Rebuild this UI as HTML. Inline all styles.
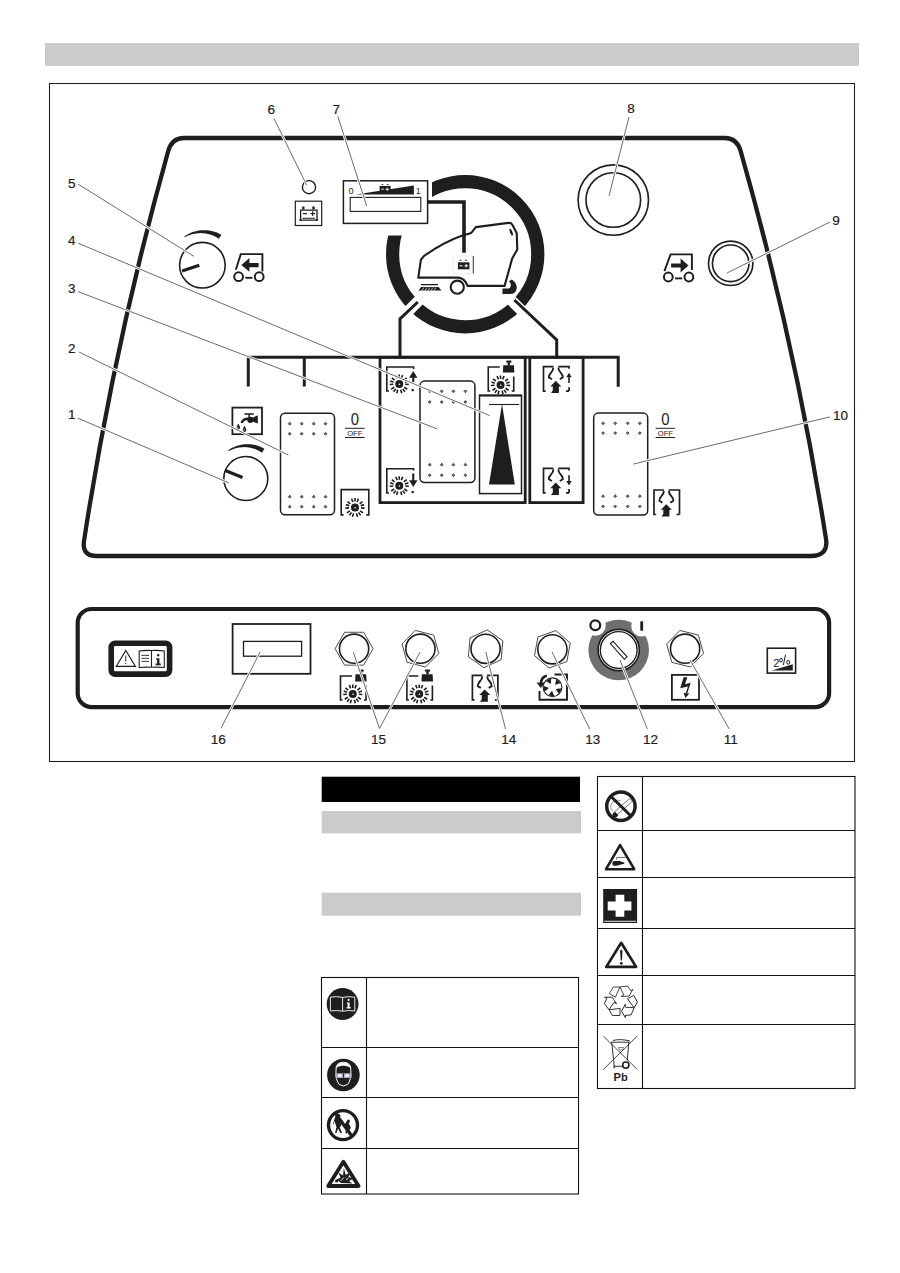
<!DOCTYPE html>
<html><head><meta charset="utf-8">
<style>
html,body{margin:0;padding:0;background:#fff;width:900px;height:1273px;overflow:hidden}
svg{position:absolute;left:0;top:0;display:block}
text{font-family:"Liberation Sans",sans-serif}
</style></head><body>
<svg width="900" height="1273" viewBox="0 0 900 1273">
<rect x="45" y="43" width="814" height="23" fill="#cbcbcb"/>
<rect x="49.5" y="83.5" width="805" height="678" fill="none" stroke="#222" stroke-width="1.1"/>
<path d="M183.89,138.00 H724.90 Q736.90,138.00 740.62,151.00 Q795.73,345.00 826.00,539.00 Q828.60,556.00 810.60,556.00 H96.77 Q81.77,556.00 84.02,541.00 Q113.68,346.00 168.22,151.00 Q171.89,138.00 183.89,138.00 Z" fill="none" stroke="#1e1e1e" stroke-width="4.3"/>
<rect x="77.7" y="609" width="751.4" height="98.2" rx="14" fill="none" stroke="#1e1e1e" stroke-width="4.2"/>
<rect x="321.7" y="776.7" width="258.3" height="25.3" fill="#000"/>
<rect x="321.7" y="811" width="259.3" height="22.3" fill="#cbcbcb"/>
<rect x="321.7" y="892.7" width="259.3" height="23" fill="#cbcbcb"/>
<g fill="none" stroke="#111" stroke-width="1.1">
<rect x="321.5" y="977.5" width="257" height="216.5"/>
<path d="M366.5,977.5 V1194 M321.5,1047.5 H578.5 M321.5,1097.5 H578.5 M321.5,1148.5 H578.5"/>
<rect x="597.5" y="776.5" width="257.5" height="312"/>
<path d="M642.5,776.5 V1088.5 M597.5,830.5 H855 M597.5,877.5 H855 M597.5,928.5 H855 M597.5,975.5 H855 M597.5,1024.5 H855"/>
</g>
<circle cx="465.2" cy="254.2" r="72.6" fill="none" stroke="#1e1e1e" stroke-width="13.2"/>
<rect x="338" y="168" width="94" height="67.5" fill="#fff"/>
<line x1="422.77" y1="296.63" x2="404.39" y2="315.01" stroke="#fff" stroke-width="11"/>
<line x1="507.63" y1="296.63" x2="526.01" y2="315.01" stroke="#fff" stroke-width="11"/>
<path d="M417.8,302 L400,319 V357" fill="none" stroke="#1e1e1e" stroke-width="3"/>
<path d="M514.4,300 L556.7,340 V357" fill="none" stroke="#1e1e1e" stroke-width="3"/>
<path d="M427,202 H464 V252.7" fill="none" stroke="#1e1e1e" stroke-width="3.6"/>
<path d="M418.3,277.6 L420.9,259.7 L424.1,255.9 C437,247 450,240 461.1,236.1 L471.3,232.9 L475.8,227.1 L508.4,222.9 Q511,222.5 512.2,224.6 L516.7,232.9 L517.3,249.5 L512.2,258.4 L504.6,285.9 L467.5,285.9 Q465,278.5 458.6,277.6 Z" fill="none" stroke="#1e1e1e" stroke-width="2.1" stroke-linejoin="round"/>
<circle cx="457.3" cy="287.2" r="6.6" fill="#fff" stroke="#1e1e1e" stroke-width="2.1"/>
<ellipse cx="511.2" cy="232.2" rx="1.2" ry="3.6" transform="rotate(-22 511.2 232.2)" fill="#1e1e1e"/>
<rect x="421" y="284" width="17" height="1.3" fill="#1e1e1e"/>
<path d="M421,287 L438.5,287 L441.5,290.6 L418.6,290.6 Z" fill="#1e1e1e"/>
<path d="M422,290.4 L424,287.5 M425,290.4 L427,287.5 M428,290.4 L430,287.5 M431,290.4 L433,287.5 M434,290.4 L436,287.5" stroke="#fff" stroke-width="0.7"/>
<path d="M502.5,288.6 H507.5 Q510.6,288.6 510.9,285.6 Q511,283 509,281.2 L511.8,279.4 Q517.2,282.8 516.7,288.5 Q516,294 509.5,294 H502.5 Z" fill="#1e1e1e"/>
<rect x="453" y="256" width="20.5" height="17.5" fill="none" stroke="#e2e2e2" stroke-width="0.6"/>
<line x1="473.3" y1="256" x2="473.3" y2="273.5" stroke="#1e1e1e" stroke-width="0.9"/>
<rect x="457.9" y="262.3" width="11.5" height="7" fill="#1e1e1e"/>
<path d="M459.6,260.3 h1.9 M465.2,260.3 h1.9" stroke="#1e1e1e" stroke-width="1.1"/>
<path d="M459.5,265.8 h3 M464.5,265.8 h3.5 M466.2,264.1 v3.4" stroke="#fff" stroke-width="1"/>
<rect x="343.4" y="180.8" width="84.2" height="42.6" fill="#fff" stroke="#1e1e1e" stroke-width="1.5"/>
<rect x="350.2" y="197.4" width="70.6" height="14" fill="none" stroke="#1e1e1e" stroke-width="1.1"/>
<path d="M355.8,194.5 L413.9,185.6 V194.5 Z" fill="#1e1e1e"/>
<rect x="379.6" y="186" width="11" height="6.4" fill="#1e1e1e"/>
<path d="M381.5,184.6 h1.8 M386.8,184.6 h1.8" stroke="#1e1e1e" stroke-width="0.9"/>
<path d="M381.2,189.2 h2.6 M385.5,189.2 h3.4 M387.2,187.6 v3.2" stroke="#fff" stroke-width="0.9"/>
<text x="351" y="194" font-size="9" text-anchor="middle" fill="#1e1e1e">0</text>
<text x="418.3" y="194" font-size="9" text-anchor="middle" fill="#1e1e1e">1</text>
<circle cx="309" cy="187.2" r="6.6" fill="none" stroke="#1e1e1e" stroke-width="1.4"/>
<rect x="295.3" y="201.2" width="26.4" height="24.3" fill="none" stroke="#1e1e1e" stroke-width="1.2"/>
<path d="M300.6,220.2 V210.2 H317 V220.2 Z" fill="none" stroke="#1e1e1e" stroke-width="1.3"/>
<rect x="302.2" y="206.5" width="2.3" height="3" fill="#1e1e1e"/><rect x="312.3" y="206.5" width="2.3" height="3" fill="#1e1e1e"/>
<path d="M303,213.6 h4 M310.5,213.6 h4.5 M312.7,211.3 v4.6 M302.5,218.2 h12.5" stroke="#1e1e1e" stroke-width="1.1"/>
<rect x="299.5" y="219" width="1.8" height="2" fill="#1e1e1e"/><rect x="316" y="219" width="1.8" height="2" fill="#1e1e1e"/>
<circle cx="613.3" cy="200" r="35.2" fill="none" stroke="#1e1e1e" stroke-width="1.65"/>
<circle cx="613.3" cy="200" r="27.3" fill="none" stroke="#1e1e1e" stroke-width="1.65"/>
<circle cx="730.7" cy="263.3" r="22.2" fill="none" stroke="#1e1e1e" stroke-width="1.65"/>
<circle cx="730.7" cy="263.3" r="18.3" fill="none" stroke="#1e1e1e" stroke-width="1.65"/>
<g transform="translate(233.0 254.0)"><path d="M2.8,15.8 L7.8,0.1 H29.4 V17.6" fill="none" stroke="#1e1e1e" stroke-width="1.9"/><path d="M8.4,10.9 L16.4,3.9 V9 H25.6 V13.2 H16.4 V17.8 Z" fill="#1e1e1e"/><circle cx="5.6" cy="22.7" r="4.4" fill="none" stroke="#1e1e1e" stroke-width="2"/><circle cx="26.2" cy="22.7" r="4.4" fill="none" stroke="#1e1e1e" stroke-width="2"/><line x1="12.3" y1="23.8" x2="19.5" y2="23.8" stroke="#1e1e1e" stroke-width="1.9"/></g>
<g transform="translate(662.7 254.0)"><path d="M1.7,17.1 L7.9,0.4 H29.2 V16" fill="none" stroke="#1e1e1e" stroke-width="1.9"/><path d="M25.8,11.5 L17.9,4.5 V9.6 H8.4 V13.5 H17.9 V18.5 Z" fill="#1e1e1e"/><circle cx="5.6" cy="23.0" r="4.4" fill="none" stroke="#1e1e1e" stroke-width="2"/><circle cx="26.2" cy="23.0" r="4.4" fill="none" stroke="#1e1e1e" stroke-width="2"/><line x1="12.3" y1="24.4" x2="19.5" y2="24.4" stroke="#1e1e1e" stroke-width="1.9"/></g>
<circle cx="202.4" cy="265.2" r="22.8" fill="none" stroke="#1e1e1e" stroke-width="1.6"/>
<path d="M184.38,236.37 L185.70,235.49 L187.07,234.67 L188.47,233.92 L189.92,233.23 L191.39,232.61 L192.90,232.06 L194.43,231.58 L195.99,231.17 L197.57,230.83 L199.17,230.56 L200.78,230.37 L202.40,230.25 L204.03,230.21 L205.66,230.24 L207.30,230.35 L208.93,230.54 L210.55,230.81 L212.16,231.15 L213.76,231.56 L215.34,232.05 L216.91,232.62 L218.44,233.26 L219.95,233.97 L221.42,234.76 L218.88,238.83 L217.67,238.02 L216.43,237.27 L215.15,236.57 L213.83,235.94 L212.48,235.36 L211.10,234.85 L209.70,234.40 L208.27,234.01 L206.83,233.70 L205.36,233.45 L203.89,233.26 L202.40,233.15 L200.91,233.11 L199.41,233.13 L197.91,233.23 L196.41,233.39 L194.92,233.63 L193.43,233.93 L191.96,234.31 L190.51,234.76 L189.07,235.27 L187.66,235.85 L186.27,236.50 L184.91,237.21 Z" fill="#1e1e1e"/>
<line x1="182.1" y1="270.9" x2="199.3" y2="265.3" stroke="#1e1e1e" stroke-width="3.2"/>
<circle cx="245.8" cy="478.5" r="22.0" fill="none" stroke="#1e1e1e" stroke-width="1.6"/>
<path d="M228.15,450.26 L229.45,449.40 L230.78,448.60 L232.16,447.86 L233.57,447.19 L235.02,446.58 L236.49,446.03 L237.99,445.56 L239.52,445.15 L241.07,444.82 L242.63,444.56 L244.21,444.37 L245.80,444.25 L247.40,444.21 L249.00,444.24 L250.60,444.35 L252.20,444.53 L253.79,444.79 L255.37,445.12 L256.94,445.53 L258.49,446.01 L260.02,446.56 L261.53,447.19 L263.01,447.88 L264.45,448.65 L261.91,452.72 L260.73,451.93 L259.51,451.19 L258.26,450.51 L256.97,449.89 L255.66,449.32 L254.31,448.82 L252.94,448.38 L251.54,448.00 L250.13,447.69 L248.70,447.44 L247.25,447.26 L245.80,447.15 L244.34,447.10 L242.87,447.13 L241.40,447.22 L239.94,447.38 L238.48,447.61 L237.03,447.91 L235.59,448.27 L234.16,448.71 L232.76,449.21 L231.37,449.78 L230.02,450.41 L228.68,451.11 Z" fill="#1e1e1e"/>
<line x1="225.3" y1="470.5" x2="242.5" y2="477.5" stroke="#1e1e1e" stroke-width="3.2"/>
<path d="M248.3,386.5 V357.3 H618.2 V386.7 M304.3,357.3 V386.5" fill="none" stroke="#1e1e1e" stroke-width="3"/>
<rect x="380" y="357.3" width="145.2" height="145.3" fill="none" stroke="#1e1e1e" stroke-width="2.8"/>
<rect x="529.8" y="357.3" width="53.3" height="145.3" fill="none" stroke="#1e1e1e" stroke-width="2.8"/>
<rect x="280.5" y="413.3" width="54.0" height="101.4" rx="4.5" fill="none" stroke="#1e1e1e" stroke-width="1.5"/>
<path d="M289.70,422.25 l1.45,1.45 l-1.45,1.45 l-1.45,-1.45 Z" fill="#777" stroke="#1e1e1e" stroke-width="0.7"/>
<path d="M301.70,422.25 l1.45,1.45 l-1.45,1.45 l-1.45,-1.45 Z" fill="#777" stroke="#1e1e1e" stroke-width="0.7"/>
<path d="M313.70,422.25 l1.45,1.45 l-1.45,1.45 l-1.45,-1.45 Z" fill="#777" stroke="#1e1e1e" stroke-width="0.7"/>
<path d="M325.50,422.25 l1.45,1.45 l-1.45,1.45 l-1.45,-1.45 Z" fill="#777" stroke="#1e1e1e" stroke-width="0.7"/>
<path d="M289.70,432.35 l1.45,1.45 l-1.45,1.45 l-1.45,-1.45 Z" fill="#777" stroke="#1e1e1e" stroke-width="0.7"/>
<path d="M301.70,432.35 l1.45,1.45 l-1.45,1.45 l-1.45,-1.45 Z" fill="#777" stroke="#1e1e1e" stroke-width="0.7"/>
<path d="M313.70,432.35 l1.45,1.45 l-1.45,1.45 l-1.45,-1.45 Z" fill="#777" stroke="#1e1e1e" stroke-width="0.7"/>
<path d="M325.50,432.35 l1.45,1.45 l-1.45,1.45 l-1.45,-1.45 Z" fill="#777" stroke="#1e1e1e" stroke-width="0.7"/>
<path d="M289.70,495.25 l1.45,1.45 l-1.45,1.45 l-1.45,-1.45 Z" fill="#777" stroke="#1e1e1e" stroke-width="0.7"/>
<path d="M301.70,495.25 l1.45,1.45 l-1.45,1.45 l-1.45,-1.45 Z" fill="#777" stroke="#1e1e1e" stroke-width="0.7"/>
<path d="M313.70,495.25 l1.45,1.45 l-1.45,1.45 l-1.45,-1.45 Z" fill="#777" stroke="#1e1e1e" stroke-width="0.7"/>
<path d="M325.50,495.25 l1.45,1.45 l-1.45,1.45 l-1.45,-1.45 Z" fill="#777" stroke="#1e1e1e" stroke-width="0.7"/>
<path d="M289.70,505.25 l1.45,1.45 l-1.45,1.45 l-1.45,-1.45 Z" fill="#777" stroke="#1e1e1e" stroke-width="0.7"/>
<path d="M301.70,505.25 l1.45,1.45 l-1.45,1.45 l-1.45,-1.45 Z" fill="#777" stroke="#1e1e1e" stroke-width="0.7"/>
<path d="M313.70,505.25 l1.45,1.45 l-1.45,1.45 l-1.45,-1.45 Z" fill="#777" stroke="#1e1e1e" stroke-width="0.7"/>
<path d="M325.50,505.25 l1.45,1.45 l-1.45,1.45 l-1.45,-1.45 Z" fill="#777" stroke="#1e1e1e" stroke-width="0.7"/>
<rect x="420.0" y="381.1" width="54.9" height="101.5" rx="4.5" fill="none" stroke="#1e1e1e" stroke-width="1.5"/>
<path d="M429.70,389.85 l1.45,1.45 l-1.45,1.45 l-1.45,-1.45 Z" fill="#777" stroke="#1e1e1e" stroke-width="0.7"/>
<path d="M441.70,389.85 l1.45,1.45 l-1.45,1.45 l-1.45,-1.45 Z" fill="#777" stroke="#1e1e1e" stroke-width="0.7"/>
<path d="M453.40,389.85 l1.45,1.45 l-1.45,1.45 l-1.45,-1.45 Z" fill="#777" stroke="#1e1e1e" stroke-width="0.7"/>
<path d="M465.40,389.85 l1.45,1.45 l-1.45,1.45 l-1.45,-1.45 Z" fill="#777" stroke="#1e1e1e" stroke-width="0.7"/>
<path d="M429.70,400.55 l1.45,1.45 l-1.45,1.45 l-1.45,-1.45 Z" fill="#777" stroke="#1e1e1e" stroke-width="0.7"/>
<path d="M441.70,400.55 l1.45,1.45 l-1.45,1.45 l-1.45,-1.45 Z" fill="#777" stroke="#1e1e1e" stroke-width="0.7"/>
<path d="M453.40,400.55 l1.45,1.45 l-1.45,1.45 l-1.45,-1.45 Z" fill="#777" stroke="#1e1e1e" stroke-width="0.7"/>
<path d="M465.40,400.55 l1.45,1.45 l-1.45,1.45 l-1.45,-1.45 Z" fill="#777" stroke="#1e1e1e" stroke-width="0.7"/>
<path d="M429.70,463.25 l1.45,1.45 l-1.45,1.45 l-1.45,-1.45 Z" fill="#777" stroke="#1e1e1e" stroke-width="0.7"/>
<path d="M441.70,463.25 l1.45,1.45 l-1.45,1.45 l-1.45,-1.45 Z" fill="#777" stroke="#1e1e1e" stroke-width="0.7"/>
<path d="M453.40,463.25 l1.45,1.45 l-1.45,1.45 l-1.45,-1.45 Z" fill="#777" stroke="#1e1e1e" stroke-width="0.7"/>
<path d="M465.40,463.25 l1.45,1.45 l-1.45,1.45 l-1.45,-1.45 Z" fill="#777" stroke="#1e1e1e" stroke-width="0.7"/>
<path d="M429.70,473.75 l1.45,1.45 l-1.45,1.45 l-1.45,-1.45 Z" fill="#777" stroke="#1e1e1e" stroke-width="0.7"/>
<path d="M441.70,473.75 l1.45,1.45 l-1.45,1.45 l-1.45,-1.45 Z" fill="#777" stroke="#1e1e1e" stroke-width="0.7"/>
<path d="M453.40,473.75 l1.45,1.45 l-1.45,1.45 l-1.45,-1.45 Z" fill="#777" stroke="#1e1e1e" stroke-width="0.7"/>
<path d="M465.40,473.75 l1.45,1.45 l-1.45,1.45 l-1.45,-1.45 Z" fill="#777" stroke="#1e1e1e" stroke-width="0.7"/>
<rect x="593.7" y="413.1" width="54.0" height="102.0" rx="4.5" fill="none" stroke="#1e1e1e" stroke-width="1.5"/>
<path d="M603.10,421.85 l1.45,1.45 l-1.45,1.45 l-1.45,-1.45 Z" fill="#777" stroke="#1e1e1e" stroke-width="0.7"/>
<path d="M615.20,421.85 l1.45,1.45 l-1.45,1.45 l-1.45,-1.45 Z" fill="#777" stroke="#1e1e1e" stroke-width="0.7"/>
<path d="M627.70,421.85 l1.45,1.45 l-1.45,1.45 l-1.45,-1.45 Z" fill="#777" stroke="#1e1e1e" stroke-width="0.7"/>
<path d="M639.80,421.85 l1.45,1.45 l-1.45,1.45 l-1.45,-1.45 Z" fill="#777" stroke="#1e1e1e" stroke-width="0.7"/>
<path d="M603.10,431.65 l1.45,1.45 l-1.45,1.45 l-1.45,-1.45 Z" fill="#777" stroke="#1e1e1e" stroke-width="0.7"/>
<path d="M615.20,431.65 l1.45,1.45 l-1.45,1.45 l-1.45,-1.45 Z" fill="#777" stroke="#1e1e1e" stroke-width="0.7"/>
<path d="M627.70,431.65 l1.45,1.45 l-1.45,1.45 l-1.45,-1.45 Z" fill="#777" stroke="#1e1e1e" stroke-width="0.7"/>
<path d="M639.80,431.65 l1.45,1.45 l-1.45,1.45 l-1.45,-1.45 Z" fill="#777" stroke="#1e1e1e" stroke-width="0.7"/>
<path d="M603.10,494.75 l1.45,1.45 l-1.45,1.45 l-1.45,-1.45 Z" fill="#777" stroke="#1e1e1e" stroke-width="0.7"/>
<path d="M615.20,494.75 l1.45,1.45 l-1.45,1.45 l-1.45,-1.45 Z" fill="#777" stroke="#1e1e1e" stroke-width="0.7"/>
<path d="M627.70,494.75 l1.45,1.45 l-1.45,1.45 l-1.45,-1.45 Z" fill="#777" stroke="#1e1e1e" stroke-width="0.7"/>
<path d="M639.80,494.75 l1.45,1.45 l-1.45,1.45 l-1.45,-1.45 Z" fill="#777" stroke="#1e1e1e" stroke-width="0.7"/>
<path d="M603.10,504.95 l1.45,1.45 l-1.45,1.45 l-1.45,-1.45 Z" fill="#777" stroke="#1e1e1e" stroke-width="0.7"/>
<path d="M615.20,504.95 l1.45,1.45 l-1.45,1.45 l-1.45,-1.45 Z" fill="#777" stroke="#1e1e1e" stroke-width="0.7"/>
<path d="M627.70,504.95 l1.45,1.45 l-1.45,1.45 l-1.45,-1.45 Z" fill="#777" stroke="#1e1e1e" stroke-width="0.7"/>
<path d="M639.80,504.95 l1.45,1.45 l-1.45,1.45 l-1.45,-1.45 Z" fill="#777" stroke="#1e1e1e" stroke-width="0.7"/>
<text x="354.8" y="425.4" font-size="16.5" text-anchor="middle" fill="#1e1e1e" transform="translate(354.8 0) scale(0.9 1) translate(-354.8 0)">0</text>
<line x1="345.0" y1="428.3" x2="364.6" y2="428.3" stroke="#1e1e1e" stroke-width="1"/>
<text x="354.8" y="435.7" font-size="7.6" text-anchor="middle" fill="#1e1e1e">OFF</text>
<line x1="345.0" y1="437.5" x2="364.6" y2="437.5" stroke="#1e1e1e" stroke-width="1"/>
<text x="665.4" y="425.4" font-size="16.5" text-anchor="middle" fill="#1e1e1e" transform="translate(665.4 0) scale(0.9 1) translate(-665.4 0)">0</text>
<line x1="655.6" y1="428.3" x2="675.2" y2="428.3" stroke="#1e1e1e" stroke-width="1"/>
<text x="665.4" y="435.7" font-size="7.6" text-anchor="middle" fill="#1e1e1e">OFF</text>
<line x1="655.6" y1="437.5" x2="675.2" y2="437.5" stroke="#1e1e1e" stroke-width="1"/>
<rect x="479.5" y="395.4" width="42" height="98.2" fill="none" stroke="#1e1e1e" stroke-width="1.5"/>
<line x1="479" y1="395.6" x2="522" y2="395.6" stroke="#1e1e1e" stroke-width="2"/>
<line x1="489" y1="404.5" x2="519.1" y2="404.5" stroke="#1e1e1e" stroke-width="1.1"/>
<path d="M502,404.1 L514.8,484.6 H489 Z" fill="#1e1e1e"/>
<path d="M343.60,514.90 H341.20 V489.60 H368.80 H368.80 V514.90 H366.40" fill="none" stroke="#1e1e1e" stroke-width="1.6"/>
<circle cx="355.00" cy="507.60" r="4.00" fill="#1e1e1e"/><circle cx="355.20" cy="507.80" r="0.80" fill="#fff"/><path d="M352.85,502.00 L351.56,498.64 M355.00,501.60 L355.00,498.00 M357.15,502.00 L358.44,498.64 M359.66,503.82 L362.46,501.56 M360.71,505.75 L364.13,504.63 M360.99,507.91 L364.59,508.10 M360.03,510.87 L363.05,512.83 M358.53,512.45 L360.64,515.37 M356.55,513.40 L357.48,516.87 M353.45,513.40 L352.52,516.87 M351.47,512.45 L349.36,515.37 M349.97,510.87 L346.95,512.83 M349.01,507.91 L345.41,508.10 M349.29,505.75 L345.87,504.63 M350.34,503.82 L347.54,501.56 " stroke="#1e1e1e" stroke-width="1.6"/>
<path d="M389,391 H386.8 V367 H413.6 V369" fill="none" stroke="#1e1e1e" stroke-width="1.6"/>
<rect x="411.6" y="389" width="2.2" height="2.2" fill="#1e1e1e"/>
<circle cx="399.25" cy="384.00" r="4.00" fill="#1e1e1e"/><circle cx="399.45" cy="384.20" r="0.80" fill="#fff"/><path d="M397.10,378.40 L395.81,375.04 M399.25,378.00 L399.25,374.40 M401.40,378.40 L402.69,375.04 M403.91,380.22 L406.71,377.96 M404.96,382.15 L408.38,381.03 M405.24,384.31 L408.84,384.50 M404.28,387.27 L407.30,389.23 M402.78,388.85 L404.89,391.77 M400.80,389.80 L401.73,393.27 M397.70,389.80 L396.77,393.27 M395.72,388.85 L393.61,391.77 M394.22,387.27 L391.20,389.23 M393.26,384.31 L389.66,384.50 M393.54,382.15 L390.12,381.03 M394.59,380.22 L391.79,377.96 " stroke="#1e1e1e" stroke-width="1.6"/>
<path d="M413.25,371 L417.5,377.8 H414.3 V382.2 H412.2 V377.8 H409 Z" fill="#1e1e1e"/>
<path d="M389,493 H386.8 V468.8 H413.6 V470.5" fill="none" stroke="#1e1e1e" stroke-width="1.6"/>
<rect x="411.6" y="491" width="2.2" height="2.2" fill="#1e1e1e"/>
<circle cx="399.25" cy="485.75" r="4.00" fill="#1e1e1e"/><circle cx="399.45" cy="485.95" r="0.80" fill="#fff"/><path d="M397.10,480.15 L395.81,476.79 M399.25,479.75 L399.25,476.15 M401.40,480.15 L402.69,476.79 M403.91,481.97 L406.71,479.71 M404.96,483.90 L408.38,482.78 M405.24,486.06 L408.84,486.25 M404.28,489.02 L407.30,490.98 M402.78,490.60 L404.89,493.52 M400.80,491.55 L401.73,495.02 M397.70,491.55 L396.77,495.02 M395.72,490.60 L393.61,493.52 M394.22,489.02 L391.20,490.98 M393.26,486.06 L389.66,486.25 M393.54,483.90 L390.12,482.78 M394.59,481.97 L391.79,479.71 " stroke="#1e1e1e" stroke-width="1.6"/>
<path d="M413.25,487 L417.5,480.2 H414.3 V473.5 H412.2 V480.2 H409 Z" fill="#1e1e1e"/>
<path d="M499.75,367.00 H488.25 V391.00 H490.25" fill="none" stroke="#1e1e1e" stroke-width="1.6"/>
<path d="M513.75,376.50 V391.00 H511.75" fill="none" stroke="#1e1e1e" stroke-width="1.6"/>
<path d="M503.25,365.20 h10.7 l0.4,7.3 h-11.5 Z" fill="#1e1e1e"/>
<rect x="506.15" y="360.60" width="5.4" height="2.2" rx="1" fill="#1e1e1e"/>
<rect x="507.65" y="362.40" width="2.4" height="2.8" fill="#1e1e1e"/>
<circle cx="500.55" cy="385.00" r="4.00" fill="#1e1e1e"/><circle cx="500.75" cy="385.20" r="0.80" fill="#fff"/><path d="M498.40,379.40 L497.11,376.04 M500.55,379.00 L500.55,375.40 M502.70,379.40 L503.99,376.04 M505.21,381.22 L508.01,378.96 M506.26,383.15 L509.68,382.03 M506.54,385.31 L510.14,385.50 M505.58,388.27 L508.60,390.23 M504.08,389.85 L506.19,392.77 M502.10,390.80 L503.03,394.27 M499.00,390.80 L498.07,394.27 M497.02,389.85 L494.91,392.77 M495.52,388.27 L492.50,390.23 M494.56,385.31 L490.96,385.50 M494.84,383.15 L491.42,382.03 M495.89,381.22 L493.09,378.96 " stroke="#1e1e1e" stroke-width="1.6"/>
<path d="M352.00,676.00 H340.50 V700.00 H342.50" fill="none" stroke="#1e1e1e" stroke-width="1.6"/>
<path d="M366.00,685.50 V700.00 H364.00" fill="none" stroke="#1e1e1e" stroke-width="1.6"/>
<path d="M355.50,674.20 h10.7 l0.4,7.3 h-11.5 Z" fill="#1e1e1e"/>
<rect x="358.40" y="669.60" width="5.4" height="2.2" rx="1" fill="#1e1e1e"/>
<rect x="359.90" y="671.40" width="2.4" height="2.8" fill="#1e1e1e"/>
<circle cx="352.80" cy="694.00" r="4.00" fill="#1e1e1e"/><circle cx="353.00" cy="694.20" r="0.80" fill="#fff"/><path d="M350.65,688.40 L349.36,685.04 M352.80,688.00 L352.80,684.40 M354.95,688.40 L356.24,685.04 M357.46,690.22 L360.26,687.96 M358.51,692.15 L361.93,691.03 M358.79,694.31 L362.39,694.50 M357.83,697.27 L360.85,699.23 M356.33,698.85 L358.44,701.77 M354.35,699.80 L355.28,703.27 M351.25,699.80 L350.32,703.27 M349.27,698.85 L347.16,701.77 M347.77,697.27 L344.75,699.23 M346.81,694.31 L343.21,694.50 M347.09,692.15 L343.67,691.03 M348.14,690.22 L345.34,687.96 " stroke="#1e1e1e" stroke-width="1.6"/>
<path d="M418.40,676.00 H406.90 V700.00 H408.90" fill="none" stroke="#1e1e1e" stroke-width="1.6"/>
<path d="M432.40,685.50 V700.00 H430.40" fill="none" stroke="#1e1e1e" stroke-width="1.6"/>
<path d="M421.90,674.20 h10.7 l0.4,7.3 h-11.5 Z" fill="#1e1e1e"/>
<rect x="424.80" y="669.60" width="5.4" height="2.2" rx="1" fill="#1e1e1e"/>
<rect x="426.30" y="671.40" width="2.4" height="2.8" fill="#1e1e1e"/>
<circle cx="419.20" cy="694.00" r="4.00" fill="#1e1e1e"/><circle cx="419.40" cy="694.20" r="0.80" fill="#fff"/><path d="M417.05,688.40 L415.76,685.04 M419.20,688.00 L419.20,684.40 M421.35,688.40 L422.64,685.04 M423.86,690.22 L426.66,687.96 M424.91,692.15 L428.33,691.03 M425.19,694.31 L428.79,694.50 M424.23,697.27 L427.25,699.23 M422.73,698.85 L424.84,701.77 M420.75,699.80 L421.68,703.27 M417.65,699.80 L416.72,703.27 M415.67,698.85 L413.56,701.77 M414.17,697.27 L411.15,699.23 M413.21,694.31 L409.61,694.50 M413.49,692.15 L410.07,691.03 M414.54,690.22 L411.74,687.96 " stroke="#1e1e1e" stroke-width="1.6"/>
<g transform="translate(542.70 365.80)"><path d="M3,25.3 H0.8 V0.8 H10.8 M15.5,0.8 H26.3 V3 M26.3,25.3 H23.3" fill="none" stroke="#1e1e1e" stroke-width="1.7"/><path d="M26.3,21.5 V25.3" fill="none" stroke="#1e1e1e" stroke-width="1.7"/><path d="M10.6,1.8 C11,6.5 5.8,7 6.2,11.6 L9.2,13.4 M15.7,1.8 C15.3,6.5 20.5,7 20.1,11.6 L17.1,13.4" fill="none" stroke="#1e1e1e" stroke-width="1.9"/><path d="M13.1,15 L18.6,20.6 H16.2 V27.3 H8.3 L10.1,24.8 V20.6 H7.6 Z" fill="#1e1e1e"/><path d="M26.3,7 L29,11.5 H27.1 V17.3 H25.5 V11.5 H23.6 Z" fill="#1e1e1e"/></g>
<g transform="translate(542.70 467.60)"><path d="M3,25.3 H0.8 V0.8 H10.8 M15.5,0.8 H26.3 V3 M26.3,25.3 H23.3" fill="none" stroke="#1e1e1e" stroke-width="1.7"/><path d="M26.3,21.5 V25.3" fill="none" stroke="#1e1e1e" stroke-width="1.7"/><path d="M10.6,1.8 C11,6.5 5.8,7 6.2,11.6 L9.2,13.4 M15.7,1.8 C15.3,6.5 20.5,7 20.1,11.6 L17.1,13.4" fill="none" stroke="#1e1e1e" stroke-width="1.9"/><path d="M13.1,15 L18.6,20.6 H16.2 V27.3 H8.3 L10.1,24.8 V20.6 H7.6 Z" fill="#1e1e1e"/><path d="M26.3,18 L29,13.5 H27.1 V7.7 H25.5 V13.5 H23.6 Z" fill="#1e1e1e"/></g>
<g transform="translate(653.20 489.20)"><path d="M3,25.3 H0.8 V0.8 H10.8 M15.5,0.8 H26.3 V25.3 M26.3,25.3 H23.3" fill="none" stroke="#1e1e1e" stroke-width="1.7"/><path d="M10.6,1.8 C11,6.5 5.8,7 6.2,11.6 L9.2,13.4 M15.7,1.8 C15.3,6.5 20.5,7 20.1,11.6 L17.1,13.4" fill="none" stroke="#1e1e1e" stroke-width="1.9"/><path d="M13.1,15 L18.6,20.6 H16.2 V27.3 H8.3 L10.1,24.8 V20.6 H7.6 Z" fill="#1e1e1e"/></g>
<g transform="translate(471.60 674.50)"><path d="M3,25.3 H0.8 V0.8 H10.8 M15.5,0.8 H26.3 V25.3 M26.3,25.3 H23.3" fill="none" stroke="#1e1e1e" stroke-width="1.7"/><path d="M10.6,1.8 C11,6.5 5.8,7 6.2,11.6 L9.2,13.4 M15.7,1.8 C15.3,6.5 20.5,7 20.1,11.6 L17.1,13.4" fill="none" stroke="#1e1e1e" stroke-width="1.9"/><path d="M13.1,15 L18.6,20.6 H16.2 V27.3 H8.3 L10.1,24.8 V20.6 H7.6 Z" fill="#1e1e1e"/></g>
<rect x="232.4" y="407.6" width="29.6" height="26.6" fill="none" stroke="#1e1e1e" stroke-width="1.8"/>
<path d="M244.4,414 H253.8 M249.2,414 V417.5" stroke="#1e1e1e" stroke-width="1.5"/>
<circle cx="250.3" cy="419.8" r="3.1" fill="#1e1e1e"/>
<path d="M252,418 L257.8,415.2 V423.4 L252,421.6 Z" fill="#1e1e1e"/>
<path d="M249.5,418.8 Q243.2,418.3 241.6,423" fill="none" stroke="#1e1e1e" stroke-width="2.3"/>
<path d="M238.3,423.4 Q236,427.2 236.6,428.6 Q238.3,430.6 240,428.6 Q240.6,427.2 238.3,423.4 Z M244.5,425.8 Q242.2,429.6 242.8,431 Q244.5,433 246.2,431 Q246.8,429.6 244.5,425.8 Z" fill="#1e1e1e"/>
<path d="M237.9,426.8 V428.5 M244.1,429.2 V430.9" stroke="#fff" stroke-width="0.7"/>
<rect x="111.2" y="643.3" width="58.4" height="30.8" rx="4" fill="none" stroke="#1e1e1e" stroke-width="5.6"/>
<path d="M125.8,650.5 L135.4,666.3 H116.3 Z" fill="none" stroke="#1e1e1e" stroke-width="1.2"/>
<path d="M125.8,655.5 V661.5 M125.8,663 V664.2" stroke="#1e1e1e" stroke-width="0.9"/>
<path d="M139.2,651 Q145,650 151.5,650.5 Q158,650 164.3,651 V667.5 Q158,666.8 151.5,667.3 Q145,666.8 139.2,667.5 Z M151.5,650.5 V667.3" fill="none" stroke="#1e1e1e" stroke-width="1.1"/>
<path d="M141.5,655.5 Q145,655 149,655.5 M141.5,658.5 Q145,658 149,658.5 M141.5,661.5 Q145,661 149,661.5" fill="none" stroke="#1e1e1e" stroke-width="0.9"/>
<path d="M158.2,653.6 L159.7,655.2 L158.2,656.8 L156.7,655.2 Z M156.2,658.3 H159.4 V663.6 H160.8 V665.2 H155.6 V663.6 H157.1 V659.8 H156.2 Z" fill="#1e1e1e"/>
<rect x="232.6" y="624" width="77.9" height="49.8" fill="none" stroke="#1e1e1e" stroke-width="1.8"/>
<rect x="243.5" y="641.4" width="58.1" height="14.8" fill="none" stroke="#1e1e1e" stroke-width="1.3"/>
<polygon points="373.10,648.70 363.60,665.15 344.60,665.15 335.10,648.70 344.60,632.25 363.60,632.25" fill="none" stroke="#1e1e1e" stroke-width="0.8"/>
<circle cx="354.10" cy="648.70" r="14.6" fill="#fff" stroke="#1e1e1e" stroke-width="1.6"/>
<polygon points="438.79,653.46 425.48,667.01 407.08,662.25 402.01,643.94 415.32,630.39 433.72,635.15" fill="none" stroke="#1e1e1e" stroke-width="0.8"/>
<circle cx="420.40" cy="648.70" r="14.6" fill="#fff" stroke="#1e1e1e" stroke-width="1.6"/>
<polygon points="501.16,659.70 483.94,667.73 468.38,656.83 470.04,637.90 487.26,629.87 502.82,640.77" fill="none" stroke="#1e1e1e" stroke-width="0.8"/>
<circle cx="485.60" cy="648.80" r="14.6" fill="#fff" stroke="#1e1e1e" stroke-width="1.6"/>
<polygon points="566.85,661.64 548.94,667.98 534.49,655.64 537.95,636.96 555.86,630.62 570.31,642.96" fill="none" stroke="#1e1e1e" stroke-width="0.8"/>
<circle cx="552.40" cy="649.30" r="14.6" fill="#fff" stroke="#1e1e1e" stroke-width="1.6"/>
<polygon points="703.54,653.30 690.34,666.96 671.90,662.37 666.66,644.10 679.86,630.44 698.30,635.03" fill="none" stroke="#1e1e1e" stroke-width="0.8"/>
<circle cx="685.10" cy="648.70" r="14.6" fill="#fff" stroke="#1e1e1e" stroke-width="1.6"/>
<defs><clipPath id="keyclip"><path d="M0,0 H900 V1273 H0 Z M595.3,625.3 m-10.5,0 a10.5,10.5 0 1 0 21,0 a10.5,10.5 0 1 0 -21,0 Z M641.7,626 m-10.5,0 a10.5,10.5 0 1 0 21,0 a10.5,10.5 0 1 0 -21,0 Z" clip-rule="evenodd"/></clipPath></defs>
<circle cx="618.7" cy="650" r="30.3" fill="#6f6f6f" clip-path="url(#keyclip)"/>
<circle cx="618.7" cy="650" r="20.6" fill="#fff" stroke="#1e1e1e" stroke-width="1.6"/>
<circle cx="618.7" cy="650" r="18.4" fill="#fff" stroke="#1e1e1e" stroke-width="1.4"/>
<rect x="608.2" y="648.4" width="21" height="3.6" transform="rotate(48 618.7 650.2)" fill="#fff" stroke="#1e1e1e" stroke-width="1.1"/>
<circle cx="595.3" cy="625.3" r="4.9" fill="none" stroke="#1e1e1e" stroke-width="2.2"/>
<rect x="640.3" y="621.3" width="2.8" height="9.4" fill="#1e1e1e"/>
<path d="M539.5,691 V699.7 H567 V674.5 H554.5" fill="none" stroke="#1e1e1e" stroke-width="1.9"/>
<circle cx="552.5" cy="687.3" r="9.4" fill="none" stroke="#1e1e1e" stroke-width="1.1"/>
<path d="M550.81,684.12 L551.15,678.16 L545.68,681.07 Z" fill="#1e1e1e"/>
<path d="M555.00,684.71 L560.77,683.20 L556.31,678.89 Z" fill="#1e1e1e"/>
<path d="M555.74,688.88 L558.96,693.90 L561.68,688.33 Z" fill="#1e1e1e"/>
<path d="M552.00,690.86 L548.22,695.48 L554.36,696.35 Z" fill="#1e1e1e"/>
<path d="M548.95,687.93 L543.39,685.76 L544.47,691.86 Z" fill="#1e1e1e"/>
<path d="M546.8,675.8 Q541.5,677 541,683" fill="none" stroke="#1e1e1e" stroke-width="2.6"/>
<path d="M536.5,682.5 L545,682.5 L540.8,688 Z" fill="#1e1e1e"/>
<rect x="671.9" y="674.9" width="27.1" height="24.9" fill="none" stroke="#1e1e1e" stroke-width="1.8"/>
<path d="M683.6,677.3 L687.3,677.3 L685,684.2 L690.7,682.8 L687.2,693.4 L689.5,693.2 L685.4,698 L683.6,692.8 L685.7,693.2 L688,686.4 L680.2,688.2 Z" fill="#1e1e1e"/>
<rect x="767.3" y="648.2" width="28.3" height="24.9" fill="none" stroke="#1e1e1e" stroke-width="1.6"/>
<path d="M771.8,670.5 L792.8,664.2 V670.5 Z" fill="#1e1e1e"/>
<text x="776.3" y="667" font-size="11" text-anchor="middle" fill="#1e1e1e">2</text>
<path d="M781,660.2 m-1.4,0 a1.4,1.8 0 1 0 2.8,0 a1.4,1.8 0 1 0 -2.8,0 M788.2,662.3 m-1.5,0 a1.5,1.9 0 1 0 3,0 a1.5,1.9 0 1 0 -3,0 M785.5,654.8 L783.3,665.2" fill="none" stroke="#1e1e1e" stroke-width="1"/>
<circle cx="620.9" cy="806.2" r="14.2" fill="none" stroke="#1e1e1e" stroke-width="3.5"/>
<path d="M613.5,812.5 L628.5,799.5 Q631,798 632,800 Q632.5,801.5 630.5,803 L615.5,816 Z" fill="none" stroke="#555" stroke-width="0.8"/>
<path d="M612.7,813.5 Q612,817 614.5,817.5 Q617,817.5 618.3,815.5 L615.5,812 Z" fill="#1e1e1e"/>
<path d="M612.5,811 Q608.5,806 613,802 Q616,799 620.5,800.5" fill="none" stroke="#777" stroke-width="0.8"/>
<line x1="611" y1="796.5" x2="631.2" y2="816.3" stroke="#1e1e1e" stroke-width="3"/>
<path d="M620.1,845.2 L634.2,869.2 H606 Z" fill="none" stroke="#1e1e1e" stroke-width="2.6" stroke-linejoin="round"/>
<path d="M612.3,863 Q612.5,861.2 614.5,861 L617.5,861 Q619.5,860.5 621,861.5 L624.6,862.8 Q624.4,864.4 622,864.3 L620,864.8 Q617,866.2 613.5,865.6 Q612.2,865 612.3,863 Z" fill="#1e1e1e"/>
<path d="M616.6,859.6 V857.4 H625.6" fill="none" stroke="#444" stroke-width="0.8"/>
<rect x="603.2" y="889" width="33.9" height="34" fill="#1e1e1e"/>
<rect x="604.2" y="920.8" width="31.9" height="0.9" fill="#fff"/>
<path d="M615.6,894.7 H624.3 V901.5 H631.4 V910.5 H624.3 V916.8 H615.6 V910.5 H607.7 V901.5 H615.6 Z" fill="#fff"/>
<path d="M621.2,942.8 L636.1,966.9 H606.3 Z" fill="none" stroke="#1e1e1e" stroke-width="2.7" stroke-linejoin="round"/>
<path d="M620.1,950.5 Q621.3,949.2 622.5,950.5 L621.9,960.5 H620.7 Z" fill="#1e1e1e"/>
<circle cx="621.3" cy="963.3" r="1.4" fill="#1e1e1e"/>
<g transform="rotate(0 621 1001.5)"><path d="M609.33,993.53 L613.30,987.00 L619.83,987.00 L615.40,997.27 Z M619.83,987.00 L627.53,986.07 L631.03,990.97 L632.90,989.33 L629.16,996.10 L621.23,996.43 L623.80,995.03 L619.83,987.00 Z" fill="#fff" stroke="#222" stroke-width="0.85" stroke-linejoin="round"/></g><g transform="rotate(120 621 1001.5)"><path d="M609.33,993.53 L613.30,987.00 L619.83,987.00 L615.40,997.27 Z M619.83,987.00 L627.53,986.07 L631.03,990.97 L632.90,989.33 L629.16,996.10 L621.23,996.43 L623.80,995.03 L619.83,987.00 Z" fill="#fff" stroke="#222" stroke-width="0.85" stroke-linejoin="round"/></g><g transform="rotate(240 621 1001.5)"><path d="M609.33,993.53 L613.30,987.00 L619.83,987.00 L615.40,997.27 Z M619.83,987.00 L627.53,986.07 L631.03,990.97 L632.90,989.33 L629.16,996.10 L621.23,996.43 L623.80,995.03 L619.83,987.00 Z" fill="#fff" stroke="#222" stroke-width="0.85" stroke-linejoin="round"/></g>
<path d="M611.7,1042.2 L614.3,1066.3 H622.5 M628.8,1042.2 L627.3,1060.5 M610.8,1042.2 H629.7 M613,1040.5 Q620,1038.5 630,1041" fill="none" stroke="#333" stroke-width="1"/>
<path d="M618.5,1047.5 h5 l-1,2.4 h-3 Z" fill="none" stroke="#666" stroke-width="0.8"/>
<rect x="613.5" y="1065.5" width="1.4" height="2.8" fill="#333"/>
<circle cx="625.8" cy="1065.1" r="3.1" fill="#fff" stroke="#1e1e1e" stroke-width="1.6"/>
<path d="M603.3,1036 L637.3,1069.5 M637.3,1036 L603.3,1069.5" stroke="#333" stroke-width="0.9"/>
<text x="620.6" y="1080.8" font-size="11" font-weight="bold" text-anchor="middle" fill="#1e1e1e">Pb</text>
<circle cx="342.6" cy="1004" r="15.9" fill="#1e1e1e"/>
<path d="M330.4,997.2 Q336.5,996 342.6,997.4 Q348.7,996 354.8,997.2 V1011 Q348.7,1010 342.6,1011.2 Q336.5,1010 330.4,1011 Z M342.6,997.4 V1011.2" fill="none" stroke="#fff" stroke-width="0.9"/>
<path d="M348.6,998.6 L349.9,999.9 L348.6,1001.2 L347.3,999.9 Z M346.8,1002.4 H349.6 V1007.3 H350.8 V1008.4 H346.4 V1007.3 H347.6 V1003.5 H346.8 Z" fill="#fff"/>
<circle cx="343.4" cy="1075" r="16.3" fill="#1e1e1e"/>
<path d="M336,1070 Q335.5,1062.3 343.4,1062.3 Q351.3,1062.3 350.8,1070 Q351.5,1080 347.5,1084.5 Q343.4,1087.5 339.3,1084.5 Q335.3,1080 336,1070 Z" fill="none" stroke="#fff" stroke-width="1"/>
<path d="M336.2,1068.5 Q336.5,1062.8 343.4,1062.8 Q350.3,1062.8 350.6,1068.5 Q348.5,1065.6 343.4,1065.8 Q338.3,1065.6 336.2,1068.5 Z" fill="#fff"/>
<rect x="335.3" y="1073.3" width="16.5" height="4.6" rx="1.5" fill="#a9a9c8"/>
<ellipse cx="339.8" cy="1075.6" rx="2.2" ry="1.3" fill="#fff"/><ellipse cx="347" cy="1075.6" rx="2.2" ry="1.3" fill="#fff"/>
<rect x="343" y="1073.5" width="0.9" height="4.2" fill="#1e1e1e"/>
<circle cx="343" cy="1125.1" r="14.5" fill="none" stroke="#1e1e1e" stroke-width="3.4"/>
<path d="M336.5,1114.2 Q339.5,1113 340.5,1115.5 Q340,1118 338.5,1118.5 L341.5,1125 L339.8,1127.5 L342,1133 H340.3 L338,1128.5 L336.5,1133 H335 L336.5,1127 L334.5,1121 L333.6,1124.5 L333,1124 L335,1117.5 Z" fill="#1e1e1e"/>
<path d="M347.8,1119.5 Q349.8,1119 350,1121 Q349.8,1122.8 348.6,1123 L351,1128 L349.5,1129.5 L350.5,1133.5 H349 L347.5,1130 L346.8,1133.5 H345.5 L346,1128 L345,1124 Z" fill="#1e1e1e"/>
<line x1="334.5" y1="1112" x2="352.5" y2="1137" stroke="#1e1e1e" stroke-width="3.2"/>
<path d="M343.4,1161.8 L358.6,1186 H328.2 Z" fill="none" stroke="#1e1e1e" stroke-width="3.8" stroke-linejoin="round"/>
<path d="M341,1183 L336.5,1179.5 L340.5,1177.8 L338.5,1172.5 L343,1175.5 L343.8,1168 L345.8,1175 L350.5,1172 L348.5,1177 L353.5,1178.5 L349,1181 L352.5,1183.5 Z" fill="#1e1e1e"/>
<path d="M340.5,1181 L344,1177.5 M346,1180 L348.5,1178" stroke="#fff" stroke-width="0.9"/>
<circle cx="336.6" cy="1181" r="1.6" fill="#1e1e1e"/>
<g stroke="#fff" stroke-width="2.6" fill="none" stroke-linecap="butt">
<line x1="77.5" y1="418.0" x2="228.3" y2="482.7"/>
<line x1="79.0" y1="352.0" x2="288.3" y2="455.0"/>
<line x1="78.1" y1="291.6" x2="437.3" y2="428.9"/>
<line x1="78.1" y1="243.2" x2="489.7" y2="415.6"/>
<line x1="78.1" y1="184.1" x2="194.0" y2="256.4"/>
<line x1="274.0" y1="118.5" x2="306.6" y2="185.0"/>
<line x1="337.8" y1="116.3" x2="366.7" y2="206.0"/>
<line x1="629.0" y1="117.0" x2="609.0" y2="196.0"/>
<line x1="830.0" y1="222.0" x2="727.0" y2="273.0"/>
<line x1="829.8" y1="416.9" x2="633.3" y2="464.1"/>
<line x1="221.0" y1="728.3" x2="260.0" y2="652.2"/>
<line x1="379.5" y1="728.5" x2="353.3" y2="652.2"/>
<line x1="379.5" y1="728.5" x2="420.0" y2="652.2"/>
<line x1="505.5" y1="729.0" x2="485.8" y2="652.0"/>
<line x1="589.7" y1="729.0" x2="552.0" y2="652.0"/>
<line x1="647.3" y1="729.0" x2="620.0" y2="660.0"/>
<line x1="729.2" y1="729.0" x2="690.0" y2="660.0"/>
</g>
<g stroke="#3a3a3a" stroke-width="0.75" fill="none">
<line x1="77.5" y1="418.0" x2="228.3" y2="482.7"/>
<line x1="79.0" y1="352.0" x2="288.3" y2="455.0"/>
<line x1="78.1" y1="291.6" x2="437.3" y2="428.9"/>
<line x1="78.1" y1="243.2" x2="489.7" y2="415.6"/>
<line x1="78.1" y1="184.1" x2="194.0" y2="256.4"/>
<line x1="274.0" y1="118.5" x2="306.6" y2="185.0"/>
<line x1="337.8" y1="116.3" x2="366.7" y2="206.0"/>
<line x1="629.0" y1="117.0" x2="609.0" y2="196.0"/>
<line x1="830.0" y1="222.0" x2="727.0" y2="273.0"/>
<line x1="829.8" y1="416.9" x2="633.3" y2="464.1"/>
<line x1="221.0" y1="728.3" x2="260.0" y2="652.2"/>
<line x1="379.5" y1="728.5" x2="353.3" y2="652.2"/>
<line x1="379.5" y1="728.5" x2="420.0" y2="652.2"/>
<line x1="505.5" y1="729.0" x2="485.8" y2="652.0"/>
<line x1="589.7" y1="729.0" x2="552.0" y2="652.0"/>
<line x1="647.3" y1="729.0" x2="620.0" y2="660.0"/>
<line x1="729.2" y1="729.0" x2="690.0" y2="660.0"/>
</g>
<g font-size="13.5" text-anchor="middle" fill="#1e1e1e" stroke="#1e1e1e" stroke-width="0.2">
<text x="71.7" y="419.0">1</text>
<text x="71.7" y="353.0">2</text>
<text x="71.7" y="293.0">3</text>
<text x="71.7" y="245.0">4</text>
<text x="71.7" y="187.7">5</text>
<text x="271.3" y="114.0">6</text>
<text x="336.2" y="114.0">7</text>
<text x="630.9" y="113.0">8</text>
<text x="836.0" y="224.8">9</text>
<text x="840.4" y="420.0">10</text>
<text x="218.3" y="744.0">16</text>
<text x="378.5" y="744.0">15</text>
<text x="508.7" y="744.0">14</text>
<text x="592.8" y="744.0">13</text>
<text x="650.4" y="744.0">12</text>
<text x="730.8" y="744.0">11</text>
</g>
</svg>
</body></html>
